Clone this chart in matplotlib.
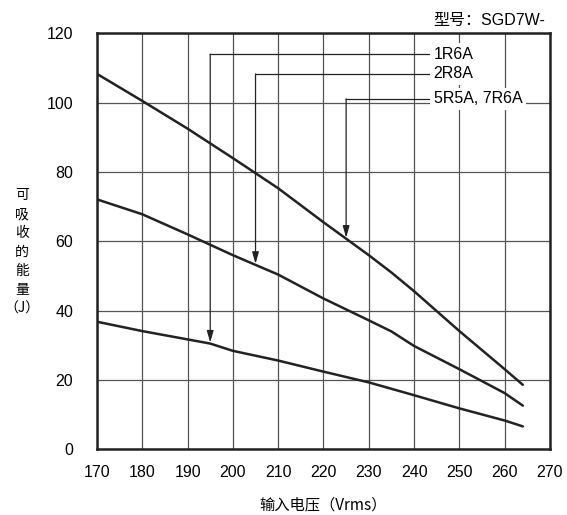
import numpy as np
import matplotlib
matplotlib.use("Agg")
import matplotlib.pyplot as plt

plt.rcParams['font.family'] = ['Liberation Sans', 'Noto Sans CJK SC', 'DejaVu Sans']

# voltage (Vrms) and absorbable energy (J)
volt_top = [170, 180, 190, 200, 210, 220, 230, 235, 240, 250, 260, 264]
energy_top = [108.3, 100.5, 92.5, 84.0, 75.3, 65.5, 56.0, 51.0, 45.6, 34.1, 23.1, 18.6]

volt_mid = [170, 180, 190, 200, 210, 220, 230, 235, 240, 250, 260, 264]
energy_mid = [72.1, 67.8, 62.0, 56.0, 50.4, 43.5, 37.2, 34.0, 29.8, 23.1, 16.2, 12.6]

volt_low = [170, 180, 190, 195, 200, 210, 215, 220, 230, 240, 250, 260, 264]
energy_low = [36.8, 34.1, 31.7, 30.5, 28.4, 25.6, 24.0, 22.4, 19.3, 15.6, 11.8, 8.3, 6.6]

# labels: name, which curve, arrow x, label row height
labels = ['1R6A', '2R8A', '5R5A, 7R6A']
label_curve = ['low', 'mid', 'top']
arrow_x = [195, 205, 225]
label_y = [114.0, 108.3, 101.1]
label_x = 244.3

x_ticks = list(range(170, 271, 10))
y_ticks = list(range(0, 121, 20))

curves = {
    'top': (volt_top, energy_top),
    'mid': (volt_mid, energy_mid),
    'low': (volt_low, energy_low),
}

fig = plt.figure(figsize=(5.67, 5.15), dpi=100)
ax = fig.add_axes([0.171, 0.1276, 0.799, 0.8077])

ax.set_xlim(170, 270)
ax.set_ylim(0, 120)
ax.set_xticks(x_ticks)
ax.set_yticks(y_ticks)
ax.tick_params(length=0, labelsize=11.5, pad=11)
ax.tick_params(axis='y', pad=17)
ax.grid(True, color='#555555', lw=0.9)
ax.set_axisbelow(True)
for s in ax.spines.values():
    s.set_linewidth(1.8)
    s.set_color('#222222')

for key in ['top', 'mid', 'low']:
    v, e = curves[key]
    ax.plot(v, e, color='#222222', lw=1.8, zorder=3, solid_capstyle='round')

for name, key, ax_x, ly in zip(labels, label_curve, arrow_x, label_y):
    v, e = curves[key]
    target = np.interp(ax_x, v, e)
    ax.plot([label_x - 0.8, ax_x], [ly, ly], color='#222222', lw=0.9, zorder=4)
    ax.annotate('', xy=(ax_x, target + 0.3), xytext=(ax_x, ly),
                arrowprops=dict(arrowstyle='-|>,head_length=0.7,head_width=0.2',
                                color='#222222', lw=0.9, shrinkA=0, shrinkB=0),
                zorder=4)
    ax.text(label_x, ly, name, fontsize=11.5, va='center', ha='left', zorder=5,
            bbox=dict(facecolor='white', edgecolor='none', pad=2.5))

fig.text(545 / 567, 1 - 20 / 515, '型号：SGD7W-', fontsize=11.5, ha='right', va='center')
fig.text(323.5 / 567, 1 - 505 / 515, '输入电压（Vrms）', fontsize=11, ha='center', va='center',
         family=['Noto Sans CJK SC', 'DejaVu Sans'])
fig.text(22 / 567, 1 - 252 / 515, '可\n吸\n收\n的\n能\n量\n（J）', fontsize=10,
         ha='center', va='center', linespacing=1.45, multialignment='center',
         family=['Noto Sans CJK SC', 'DejaVu Sans'])

fig.savefig('out.png', dpi=100)
